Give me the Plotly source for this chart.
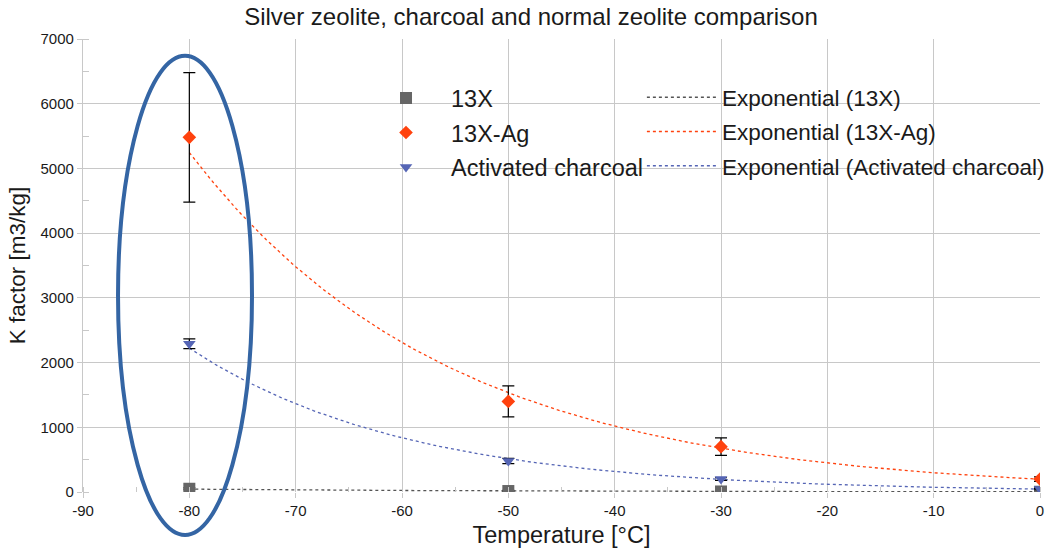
import numpy as np
import plotly.graph_objects as go

temps = [-80, -50, -30, 0]
k_13x = [50, 15, 8, 4]
err_13x = [15, 10, 8, 8]
k_ag = [5480, 1400, 700, 200]
err_ag = [1000, 240, 135, 35]
k_ch = [2290, 480, 200, 45]
err_ch = [75, 40, 20, 10]

x_ticks = [-90, -80, -70, -60, -50, -40, -30, -20, -10, 0]
x_ticktext = ["-90", "-80", "-70", "-60", "-50", "-40", "-30", "-20", "-10", "0"]

GRAY = "#666666"
RED = "#ff420e"
BLUE = "#5565b5"
FONT = "Liberation Sans, Arial, sans-serif"
TXT = "#1a1a1a"

def exp_fit(x, y):
    b, ln_a = np.polyfit(np.array(x, float), np.log(np.array(y, float)), 1)
    xs = np.linspace(min(x), max(x), 200)
    return xs, np.exp(ln_a) * np.exp(b * xs)

fig = go.Figure()

series = [
    ("13X", k_13x, err_13x, GRAY, "square", 12),
    ("13X-Ag", k_ag, err_ag, RED, "diamond", 10.5),
    ("Activated charcoal", k_ch, err_ch, BLUE, "triangle-down", 11),
]

for i, (name, ys, errs, col, sym, sz) in enumerate(series):
    xs, yf = exp_fit(temps, ys)
    fig.add_trace(go.Scatter(
        x=xs, y=yf, mode="lines", name=f"Exponential ({name})",
        line=dict(color=col if name != "13X" else "#555555", width=1.3, dash="dot"),
        legend="legend2", legendgroup=f"t{i}", hoverinfo="skip"))

for i, (name, ys, errs, col, sym, sz) in enumerate(series):
    fig.add_trace(go.Scatter(
        x=temps, y=ys, mode="markers", name=name,
        marker=dict(color=col, symbol=sym, size=sz),
        error_y=dict(type="data", array=errs, color="black", thickness=1.2, width=6),
        legend="legend", legendgroup=f"m{i}"))

fig.add_shape(type="circle", xref="paper", yref="paper",
              x0=0.0366, x1=0.1766, y0=-0.095, y1=0.963,
              line=dict(color="#3465a4", width=4), layer="above")

fig.update_layout(
    width=1062, height=550,
    margin=dict(l=83, r=22, t=39, b=58),
    paper_bgcolor="white", plot_bgcolor="white",
    font=dict(family=FONT, color=TXT),
    title=dict(text="Silver zeolite, charcoal and normal zeolite comparison",
               x=0.5, xanchor="center", y=1 - 17 / 550, yanchor="middle",
               font=dict(size=24, family=FONT, color=TXT)),
    showlegend=True,
    legend=dict(x=0.2905, y=0.918, xanchor="left", yanchor="top",
                bgcolor="rgba(255,255,255,0)", font=dict(size=23.5, family=FONT, color=TXT),
                traceorder="grouped", tracegroupgap=1, itemwidth=80),
    legend2=dict(x=0.584, y=0.918, xanchor="left", yanchor="top",
                 bgcolor="rgba(255,255,255,0)", font=dict(size=22.5, family=FONT, color=TXT),
                 traceorder="grouped", tracegroupgap=2, itemwidth=70),
)

fig.update_xaxes(range=[-90, 0], tickmode="array", tickvals=x_ticks, ticktext=x_ticktext,
                 automargin=False,
                 showgrid=True, gridcolor="#c8c8c8", gridwidth=1.3,
                 zeroline=False, showline=False,
                 ticks="outside", ticklen=5, tickcolor="#c8c8c8",
                 minor=dict(dtick=5, tick0=-90, ticks="inside", ticklen=5, tickcolor="#c8c8c8", showgrid=False),
                 tickfont=dict(size=15, family=FONT, color=TXT),
                 title=dict(text="Temperature [°C]", font=dict(size=23.5, family=FONT, color=TXT), standoff=8))
fig.update_yaxes(range=[0, 7000], dtick=1000, automargin=False,
                 showgrid=True, gridcolor="#c8c8c8", gridwidth=1.3,
                 zeroline=False, showline=True, linecolor="#c8c8c8", linewidth=1.3,
                 ticks="outside", ticklen=5, tickcolor="#c8c8c8",
                 minor=dict(dtick=500, ticks="inside", ticklen=6, tickcolor="#c8c8c8", showgrid=False),
                 tickfont=dict(size=15, family=FONT, color=TXT),
                 title=dict(text="K factor [m3/kg]", font=dict(size=22.5, family=FONT, color=TXT), standoff=8))

fig.write_html("out.html", config={"displayModeBar": False},
               post_script="document.body.style.margin='0';")
